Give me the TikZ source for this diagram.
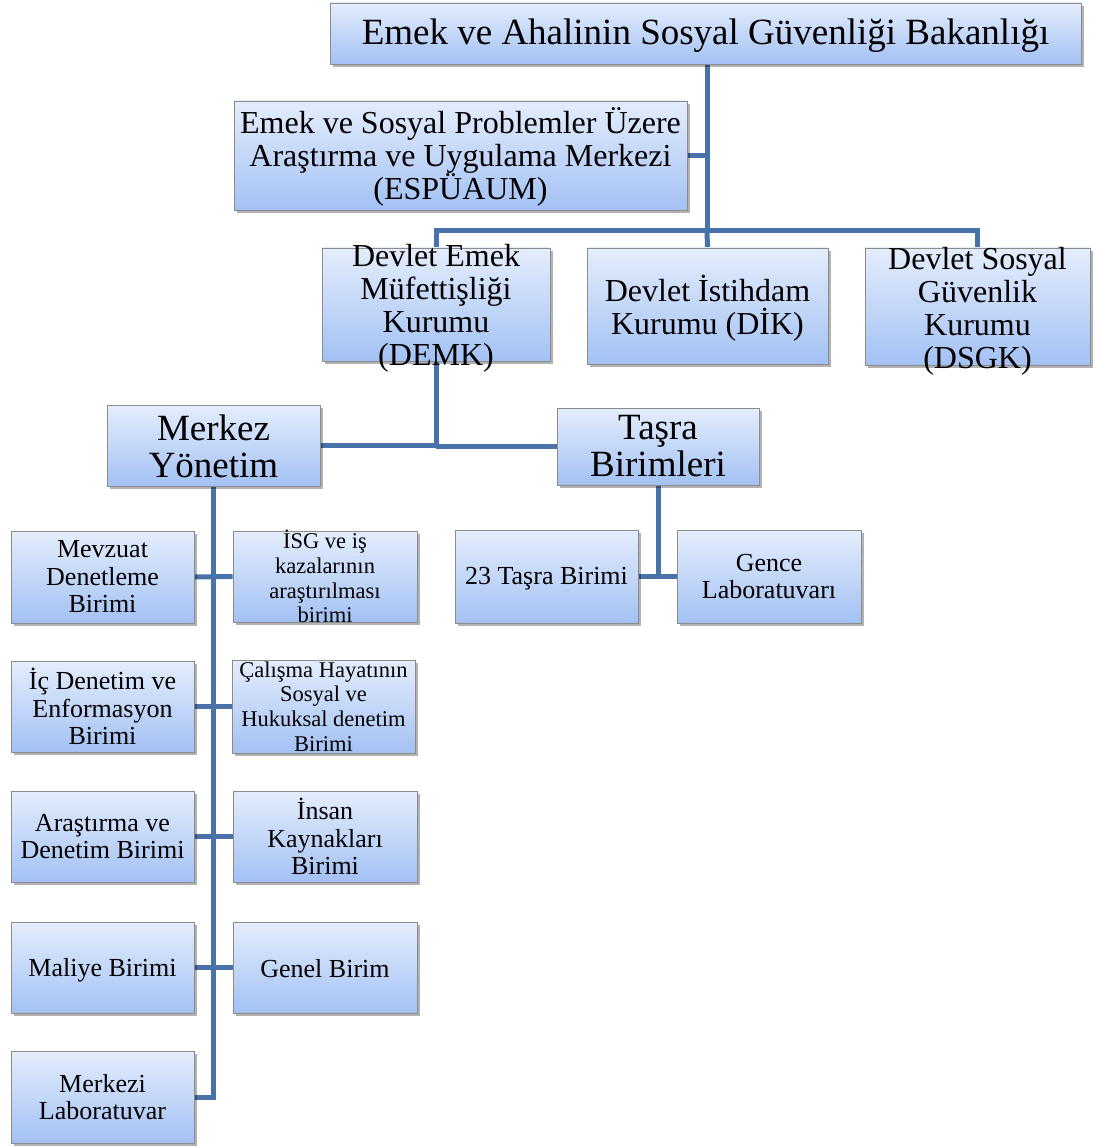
\documentclass[tikz,border=0pt]{standalone}
\usepackage{fontspec}
\setmainfont{Liberation Serif}
\usetikzlibrary{shadows,backgrounds}
\definecolor{boxtop}{RGB}{228,237,252}
\definecolor{boxbot}{RGB}{163,193,244}
\definecolor{boxline}{RGB}{140,140,140}
\definecolor{conncol}{RGB}{74,114,170}
\tikzset{
  box/.style={rectangle, draw=boxline, line width=0.8pt, top color=boxtop, bottom color=boxbot,
    inner sep=0pt, drop shadow={shadow xshift=3pt, shadow yshift=-3pt, opacity=0.3, fill=black}},
  txt/.style={align=center, inner sep=0pt, text=black},
  conn/.style={draw=conncol, line width=5pt},
  fA/.style={font=\fontsize{37}{40}\selectfont},
  fB/.style={font=\fontsize{32}{33}\selectfont},
  fC/.style={font=\fontsize{37}{37}\selectfont},
  fD/.style={font=\fontsize{26}{27.5}\selectfont},
  fE/.style={font=\fontsize{22.5}{24.8}\selectfont},
}
\newcommand{\bx}[6]{\node[box, minimum width=#4, minimum height=#5] (#1) at (#2,#3) {};}
\begin{document}
\begin{tikzpicture}[x=1pt,y=-1pt]
\useasboundingbox (0,0) rectangle (1094,1147);
% boxes
\bx{top}{705.5}{33.5}{751}{61}{}
\bx{esp}{460.5}{155.5}{453}{109}{}
\bx{demk}{436}{304.5}{228}{113}{}
\bx{dik}{707.5}{306}{241}{116}{}
\bx{dsgk}{977.5}{306.5}{225}{117}{}
\bx{merkez}{213.5}{445.5}{213}{81}{}
\bx{tasra}{658}{446.5}{202}{77}{}
\bx{mev}{102.5}{577}{183}{92}{}
\bx{isg}{325}{576.5}{184}{91}{}
\bx{t23}{546.5}{576.5}{183}{93}{}
\bx{gence}{769}{576.5}{184}{93}{}
\bx{ic}{102.5}{706.5}{183}{91}{}
\bx{cal}{323.5}{706.5}{183}{93}{}
\bx{ard}{102.5}{836.5}{183}{91}{}
\bx{ins}{325}{836.5}{184}{91}{}
\bx{mal}{102.5}{967.5}{183}{91}{}
\bx{gen}{325}{967.5}{184}{91}{}
\bx{lab}{102.5}{1097}{183}{92}{}
% connectors
\begin{pgfonlayer}{background}
\coordinate (j1) at (707,231);
\draw[conn] (top.south -| j1) -- (j1);
\draw[conn] (esp.east) -- (esp.east -| j1);
\draw[conn] (demk.north) -- (demk.north |- j1) -- (dsgk.north |- j1) -- (dsgk.north);
\draw[conn] (j1) -- (dik.north);
\draw[conn] (demk.south) |- (merkez.east);
\draw[conn] (demk.south |- tasra.west) -- (tasra.west);
\draw[conn] (merkez.south) |- (lab.east);
\draw[conn] (mev.east) -- (isg.west);
\draw[conn] (ic.east) -- (cal.west);
\draw[conn] (ard.east) -- (ins.west);
\draw[conn] (mal.east) -- (gen.west);
\draw[conn] (tasra.south) -- (tasra.south |- t23.east);
\draw[conn] (t23.east) -- (gence.west);
\end{pgfonlayer}
% texts
\node[txt,fA] at ([yshift=-2pt]top.center) {Emek ve Ahalinin Sosyal Güvenliği Bakanlığı};
\node[txt,fB] at ([yshift=-1pt]esp.center) {Emek ve Sosyal Problemler Üzere\\Araştırma ve Uygulama Merkezi\\(ESPÜAUM)};
\node[txt,fB] at ([yshift=-4pt]demk.center) {Devlet Emek\\Müfettişliği\\Kurumu\\(DEMK)};
\node[txt,fB] at ([yshift=-2pt]dik.center) {Devlet İstihdam\\Kurumu (DİK)};
\node[txt,fB] at ([yshift=-4.5pt]dsgk.center) {Devlet Sosyal\\Güvenlik\\Kurumu\\(DSGK)};
\node[txt,fC] at ([yshift=-1pt]merkez.center) {Merkez\\Yönetim};
\node[txt,fC] at (tasra) {Taşra\\Birimleri};
\node[txt,fD] at (mev) {Mevzuat\\Denetleme\\Birimi};
\node[txt,fE] at (isg) {İSG ve iş\\kazalarının\\araştırılması\\birimi};
\node[txt,fD] at ([yshift=-2.5pt]t23.center) {23 Taşra Birimi};
\node[txt,fD] at (gence) {Gence\\Laboratuvarı};
\node[txt,fD] at (ic) {İç Denetim ve\\Enformasyon\\Birimi};
\node[txt,fE] at (cal) {Çalışma Hayatının\\Sosyal ve\\Hukuksal denetim\\Birimi};
\node[txt,fD] at (ard) {Araştırma ve\\Denetim Birimi};
\node[txt,fD] at (ins) {İnsan\\Kaynakları\\Birimi};
\node[txt,fD] at ([yshift=-2.5pt]mal.center) {Maliye Birimi};
\node[txt,fD] at ([yshift=-1pt]gen.center) {Genel Birim};
\node[txt,fD] at (lab) {Merkezi\\Laboratuvar};
\end{tikzpicture}
\end{document}
